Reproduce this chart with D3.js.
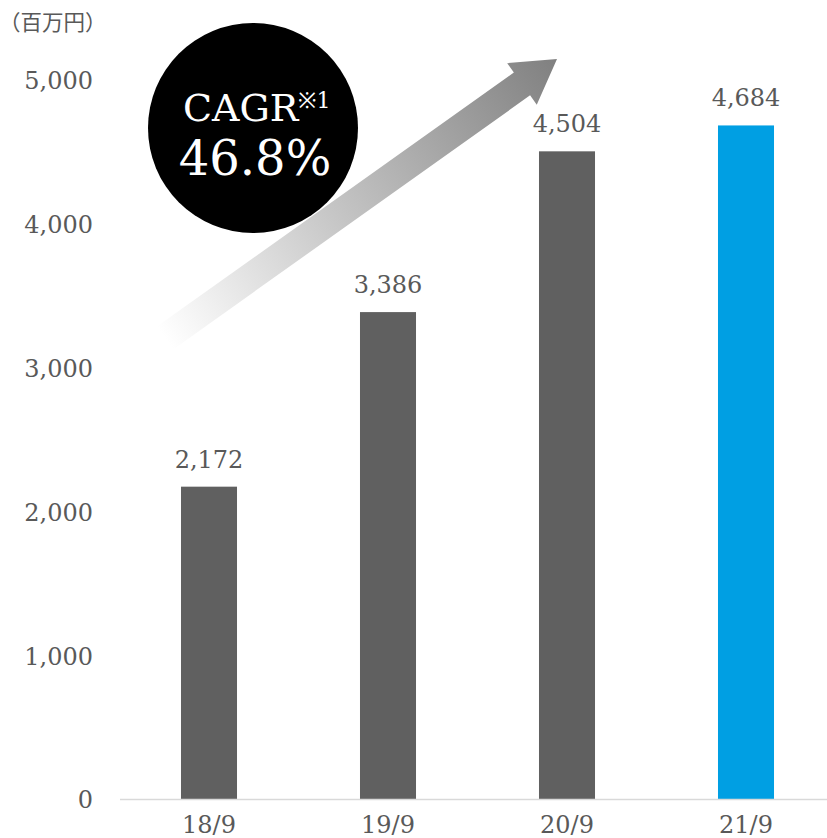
<!DOCTYPE html>
<html>
<head>
<meta charset="utf-8">
<script src="https://cdn.jsdelivr.net/npm/d3@7"></script>
<style>
  html, body { margin: 0; padding: 0; background: #fff; }
  svg { display: block; }
</style>
</head>
<body>
<svg id="chart" width="827" height="838"></svg>
<script>
// Sales by fiscal period (millions of yen)
const categories = ["18/9", "19/9", "20/9", "21/9"];
const values = [2172, 3386, 4504, 4684];
const barColors = ["#606060", "#606060", "#606060", "#009fe3"];
const yTicks = [0, 1000, 2000, 3000, 4000, 5000];
const unitLabel = "（百万円）";
const cagrLabel = "CAGR";
const cagrNote = "※1";
const cagrValue = "46.8%";

const svg = d3.select("#chart");
const serif = "'DejaVu Serif', serif";
const textColor = "#595959";

const x = d3.scaleBand()
  .domain(categories)
  .range([119.5, 835.5])
  .paddingInner(0.687)
  .paddingOuter(0.3435);

const y = d3.scaleLinear()
  .domain([0, 5000])
  .range([799, 80]);

const fmt = d3.format(",");

// Unit label
svg.append("text")
  .attr("x", -1)
  .attr("y", 30)
  .attr("font-family", "'Noto Sans CJK JP', sans-serif")
  .attr("font-size", 21.5)
  .attr("fill", textColor)
  .text(unitLabel);

// Y axis tick labels (no axis line)
const yAxis = d3.axisLeft(y)
  .tickValues(yTicks)
  .tickFormat(fmt)
  .tickSize(0)
  .tickPadding(0);
const gy = svg.append("g")
  .attr("transform", "translate(93,0)")
  .call(yAxis);
gy.select(".domain").remove();
gy.selectAll("text")
  .attr("font-family", serif)
  .attr("font-size", 24)
  .attr("fill", textColor)
  .attr("dy", "0.37em");

// Gradient arrow showing growth
const defs = svg.append("defs");
const tail = [165, 338], tip = [557, 59];
const dx = tip[0] - tail[0], dy = tip[1] - tail[1];
const len = Math.hypot(dx, dy);
const u = [dx / len, dy / len];
const n = [-u[1], u[0]];
const shaftHalf = 14, headHalf = 25.5, headLen = 43;
const pt = (along, side) => [tail[0] + u[0] * along + n[0] * side, tail[1] + u[1] * along + n[1] * side];
const arrowPts = [
  pt(0, -shaftHalf), pt(len - headLen, -shaftHalf), pt(len - headLen, -headHalf),
  pt(len, 0),
  pt(len - headLen, headHalf), pt(len - headLen, shaftHalf), pt(0, shaftHalf)
];
const grad = defs.append("linearGradient")
  .attr("id", "arrowGrad")
  .attr("gradientUnits", "userSpaceOnUse")
  .attr("x1", tail[0]).attr("y1", tail[1])
  .attr("x2", tip[0]).attr("y2", tip[1]);
grad.append("stop").attr("offset", "0").attr("stop-color", "#ffffff");
grad.append("stop").attr("offset", "0.45").attr("stop-color", "#c4c4c4");
grad.append("stop").attr("offset", "1").attr("stop-color", "#808080");
svg.append("path")
  .attr("d", d3.line()(arrowPts) + "Z")
  .attr("fill", "url(#arrowGrad)");

// Bars
svg.append("g")
  .selectAll("rect")
  .data(values)
  .join("rect")
  .attr("x", (d, i) => x(categories[i]))
  .attr("y", d => y(d))
  .attr("width", x.bandwidth())
  .attr("height", d => y(0) - y(d))
  .attr("fill", (d, i) => barColors[i]);

// Value labels
svg.append("g")
  .selectAll("text")
  .data(values)
  .join("text")
  .attr("x", (d, i) => x(categories[i]) + x.bandwidth() / 2)
  .attr("y", d => y(d) - 19)
  .attr("text-anchor", "middle")
  .attr("font-family", serif)
  .attr("font-size", 24)
  .attr("fill", textColor)
  .text(d => fmt(d));

// Baseline
svg.append("line")
  .attr("x1", 120).attr("x2", 827)
  .attr("y1", y(0) + 0.5).attr("y2", y(0) + 0.5)
  .attr("stroke", "#d9d9d9")
  .attr("stroke-width", 1.5);

// X axis labels
const xAxis = d3.axisBottom(x).tickSize(0).tickPadding(0);
const gx = svg.append("g")
  .attr("transform", "translate(0,833)")
  .call(xAxis);
gx.select(".domain").remove();
gx.selectAll("text")
  .attr("font-family", serif)
  .attr("font-size", 24)
  .attr("fill", textColor)
  .attr("dy", 0)
  .attr("y", 0);

// CAGR badge
svg.append("circle")
  .attr("cx", 253).attr("cy", 128).attr("r", 105)
  .attr("fill", "#000");
const cagr = svg.append("text")
  .attr("x", 183).attr("y", 121)
  .attr("font-family", serif)
  .attr("font-size", 38)
  .attr("fill", "#fff");
cagr.append("tspan").text(cagrLabel);
cagr.append("tspan")
  .attr("font-size", 22)
  .attr("dy", -13)
  .text(cagrNote);
svg.append("text")
  .attr("x", 255).attr("y", 175)
  .attr("text-anchor", "middle")
  .attr("font-family", serif)
  .attr("font-size", 48)
  .attr("fill", "#fff")
  .text(cagrValue);
</script>
</body>
</html>
